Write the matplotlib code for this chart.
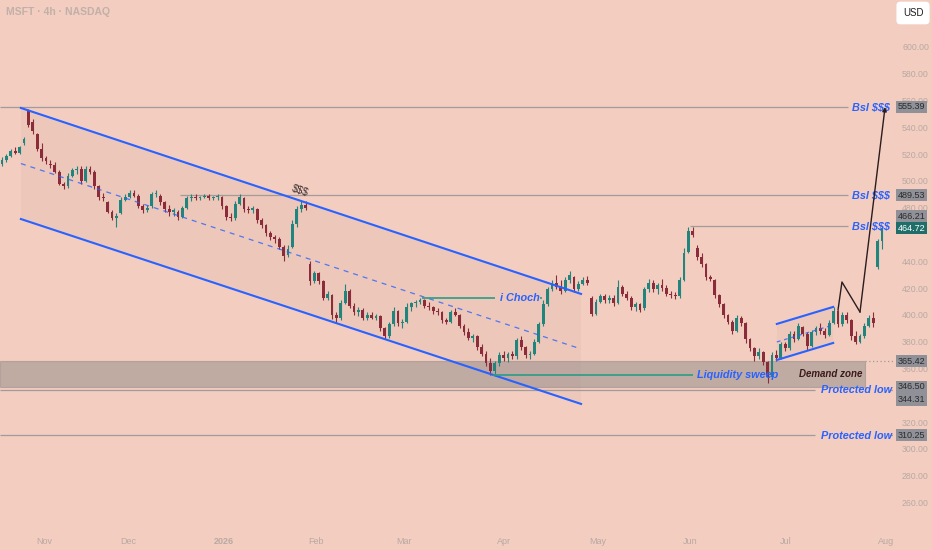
import numpy as np
import matplotlib.pyplot as plt
from matplotlib.patches import Rectangle, Polygon
from matplotlib.transforms import blended_transform_factory

plt.rcParams['font.family'] = ['Liberation Sans', 'DejaVu Sans']

# --- MSFT 4h, one slot per trading day ---
opens = [513, 516, 519, 522, 521, 528, 552, 544, 535, 524,
         517, 513, 512, 507, 498, 496, 504, 508, 509, 500,
         509, 507, 496, 488, 484, 477, 472, 476, 486, 488,
         491, 489, 481, 478, 481, 490, 489, 484, 479, 477,
         477, 473, 480, 487, 488, 487, 488, 489, 487, 488,
         488, 481, 473, 472, 483, 487, 479, 478, 479, 471,
         467, 461, 458, 457, 451, 445, 451, 468, 479, 482,
         438, 425, 431, 425, 413, 415, 400, 398, 409, 418,
         407, 402, 404, 398, 400, 398, 399, 390, 384, 393,
         403, 394, 395, 406, 409, 410, 411, 407, 406, 403,
         402, 396, 395, 402, 400, 392, 387, 383, 384, 376,
         371, 364, 358, 364, 370, 368, 371, 369, 381, 376,
         370, 371, 380, 393, 408, 419, 424, 421, 418, 426,
         428, 419, 423, 426, 413, 401, 410, 414, 411, 413,
         409, 421, 416, 413, 406, 408, 405, 419, 424, 419,
         422, 420, 416, 415, 414, 426, 447, 463, 450, 443,
         438, 428, 426, 415, 408, 400, 395, 388, 398, 394,
         382, 375, 369, 372, 365, 354, 370, 368, 378, 375,
         386, 382, 391, 386, 377, 387, 390, 388, 385, 394,
         403, 393, 400, 396, 384, 380, 384, 392, 398, 436,
         455]
highs = [518, 520, 524, 525, 526, 533, 554, 546, 536, 528,
         519, 516, 514, 508, 499, 506, 510, 511, 511, 511,
         511, 508, 497, 491, 485, 478, 476, 488, 490, 493,
         493, 490, 483, 482, 492, 493, 490, 485, 482, 480,
         478, 481, 489, 490, 490, 489, 490, 490, 489, 490,
         489, 482, 476, 485, 490, 488, 481, 481, 480, 472,
         468, 463, 460, 458, 452, 452, 471, 481, 485, 485,
         440, 433, 432, 426, 418, 416, 402, 411, 423, 419,
         409, 406, 405, 402, 402, 401, 400, 391, 395, 406,
         404, 397, 409, 410, 411, 412.7, 412, 410, 407, 405,
         403, 398, 404, 405, 401, 393, 390, 386, 385, 378,
         373, 368, 366, 372, 373, 372, 373, 383, 384, 377,
         373, 382, 395, 411, 421, 426, 430, 426, 428, 433,
         429, 425, 428, 429, 414, 412, 416, 416, 415, 415,
         426, 422, 418, 414, 410, 409, 421, 427, 426, 424,
         427, 422, 418, 417, 428, 450, 466, 466, 452, 446,
         439, 430, 427, 416, 409, 401, 396, 400, 399, 395,
         383, 376, 375, 373, 366, 372, 374, 380, 380, 388,
         388, 394, 392, 387, 389, 392, 394, 390, 396, 406,
         404, 402, 402, 397, 388, 386, 394, 400, 402, 457,
         466]
lows = [511, 514, 518, 520, 520, 527, 540, 535, 522, 515,
        513, 510, 506, 497, 494, 495, 503, 505, 498, 499,
        505, 494, 486, 485, 476, 471, 466, 475, 485, 487,
        488, 480, 476, 477, 480, 488, 482, 477, 474, 474,
        471, 472, 479, 485, 486, 486, 487, 486, 486, 486,
        479, 471, 470, 471, 482, 477, 476, 476, 469, 465,
        459, 456, 454, 449, 440, 443, 450, 466, 477, 478,
        422, 424, 423, 411, 411, 397, 394, 396, 408, 405,
        400, 399, 396, 396, 397, 396, 388, 382, 383, 392,
        392, 390, 394, 403, 406, 408, 405, 404, 401, 400,
        394, 393, 394, 399, 390, 385, 381, 380, 374, 369,
        362, 355.5, 356, 362, 366, 365, 367, 367, 374, 368,
        367, 370, 379, 392, 407, 418, 419, 416, 417, 424,
        417, 418, 422, 422, 399, 400, 409, 409, 409, 407,
        408, 414, 411, 404, 403, 402, 404, 417, 417, 416,
        418, 414, 413, 412, 413, 425, 446, 458, 441, 436,
        426, 425, 413, 406, 398, 393, 386, 387, 392, 379,
        373, 366, 367, 363, 349.5, 353, 366, 367, 373, 374,
        380, 381, 384, 374, 376, 385, 386, 383, 384, 393,
        391, 392, 394, 381, 378, 379, 383, 391, 391, 434,
        449]
closes = [516, 519, 522, 521, 525, 531, 542, 537, 524, 517,
          515, 512, 507, 498, 496, 504, 508, 509, 500, 509,
          507, 496, 488, 487, 477, 472, 474, 486, 488, 491,
          489, 481, 478, 480, 490, 491, 484, 479, 477, 478,
          473, 480, 487, 488, 487, 488, 489, 487, 488, 489,
          481, 473, 472, 483, 488, 479, 478, 480, 471, 467,
          461, 458, 457, 451, 444, 449, 468, 479, 482, 480,
          425, 431, 425, 413, 416, 400, 398, 409, 418, 407,
          402, 404, 398, 400, 398, 399, 390, 384, 393, 403,
          394, 395, 406, 409, 410, 411, 407, 406, 403, 402,
          396, 395, 402, 400, 392, 387, 383, 384, 376, 371,
          364, 358, 364, 370, 368, 371, 369, 381, 376, 370,
          371, 380, 393, 408, 419, 424, 421, 418, 426, 430,
          419, 423, 426, 424, 401, 410, 414, 411, 413, 409,
          421, 416, 413, 406, 408, 404, 419, 424, 419, 422,
          420, 416, 415, 414, 426, 446, 463, 460, 443, 438,
          428, 427, 415, 408, 400, 395, 388, 398, 394, 382,
          375, 369, 372, 365, 354, 370, 368, 378, 375, 386,
          382, 392, 386, 377, 387, 390, 388, 385, 394, 403,
          393, 400, 396, 384, 380, 384, 392, 398, 394, 455,
          464.72]

month_pos = [9.5, 28.6, 50.5, 71.4, 91.4, 114.1, 135.5, 156.4, 178.2, 200.9]
month_labels = ['Nov', 'Dec', '2026', 'Feb', 'Mar', 'Apr', 'May', 'Jun', 'Jul', 'Aug']
price_ticks = list(range(260, 601, 20))
hidden_ticks = [340, 460]   # covered by the price labels

bsl_levels = [555.39, 489.53, 466.21]
protected_lows = [344.31, 310.25]
demand_zone = (346.50, 365.42)
last_price = 464.72

# channel ends (upper, middle, lower) at start / end bar
channel_start = [554.5, 513.0, 471.6]
channel_end = [415.7, 374.6, 333.6]
# July rising channel
flag_start = [393.3, 366.4]
flag_end = [406.0, 379.1]
# projection path
path_bars = [190.0, 190.9, 195.0, 200.7]
path_prices = [403.7, 424.6, 402.2, 555.2]
choch_level = 412.7
sweep_level = 355.5

BG = '#f2cdc0'
UP = '#21857d'
DOWN = '#8a2c3a'
BLUE = '#2962ff'
TEAL = '#2a9d85'
GRAY_LINE = '#a39b99'
TICK = '#b9a9a2'

fig = plt.figure(figsize=(9.32, 5.5), dpi=100, facecolor=BG)
ax = fig.add_axes([0, 20 / 550, 893 / 932, 530 / 550], facecolor=BG)
ax.set_xlim(-0.45, 202.5)
ax.set_ylim(239.5, 635.07)
for s in ax.spines.values():
    s.set_visible(False)

# descending channel
c0, c1 = 4.3, 131.6
ax.add_patch(Polygon([(c0, channel_start[0]), (c1, channel_end[0]),
                      (c1, channel_end[2]), (c0, channel_start[2])],
                     closed=True, fc='#a07060', alpha=0.06, ec='none', zorder=1))
ax.plot([c0, c1], [channel_start[0], channel_end[0]], color=BLUE, lw=1.5, zorder=5)
ax.plot([c0, c1], [channel_start[2], channel_end[2]], color=BLUE, lw=1.5, zorder=5)
ax.plot([c0, c1], [channel_start[1], channel_end[1]], color=BLUE, lw=0.9,
        dashes=(4, 4), alpha=0.8, zorder=5)

# demand zone
ax.add_patch(Rectangle((-0.45, demand_zone[0]), 196.55, demand_zone[1] - demand_zone[0],
                       fc='#8a8684', alpha=0.48, ec='#8f8580', lw=0.8, zorder=1))
ax.text(188.4, 356, 'Demand zone', fontsize=7, fontweight='bold', style='italic',
        color='#3a1a1c', ha='center', va='center', zorder=6)
ax.hlines(demand_zone[1], 196.1, 202.5, colors=GRAY_LINE, lw=0.9, linestyles=(0, (1, 2)), zorder=2)

# horizontal levels
for lev, x0 in zip(bsl_levels, [-0.45, 40.5, 156.4]):
    ax.hlines(lev, x0, 192.3, colors=GRAY_LINE, lw=0.9, zorder=2)
    ax.text(193.2, lev, 'Bsl $$$', fontsize=7.8, fontweight='bold', style='italic',
            color=BLUE, ha='left', va='center', zorder=6)
for lev in protected_lows:
    ax.hlines(lev, -0.45, 184.8, colors=GRAY_LINE, lw=0.9, zorder=2)
    ax.hlines(lev, 201.6, 202.5, colors=GRAY_LINE, lw=0.9, zorder=2)
    ax.text(186.1, lev - 0.5, 'Protected low', fontsize=7.8, fontweight='bold', style='italic',
            color=BLUE, ha='left', va='center', zorder=6)

ax.text(67.7, 493, '$$$', fontsize=7.5, color='#3e3030', rotation=-18,
        ha='center', va='center', zorder=6)

# choch / sweep marks
ax.hlines(choch_level, 95.5, 112.0, colors=TEAL, lw=1.2, zorder=5)
ax.hlines(choch_level, 122.3, 122.7, colors=TEAL, lw=1.2, zorder=5)
ax.text(113.2, choch_level, 'i Choch', fontsize=7.8, fontweight='bold', style='italic',
        color=BLUE, ha='left', va='center', zorder=6)
ax.hlines(sweep_level, 111.6, 157.0, colors=TEAL, lw=1.2, zorder=5)
ax.text(158.0, sweep_level, 'Liquidity sweep', fontsize=7.8, fontweight='bold', style='italic',
        color=BLUE, ha='left', va='center', zorder=6)

# July flag
f0, f1 = 176.1, 188.9
ax.add_patch(Polygon([(f0, flag_start[0]), (f1, flag_end[0]), (f1, flag_end[1]), (f0, flag_start[1])],
                     closed=True, fc='#a07060', alpha=0.06, ec='none', zorder=1))
ax.plot([f0, f1], [flag_start[0], flag_end[0]], color=BLUE, lw=1.5, zorder=5)
ax.plot([f0, f1], [flag_start[1], flag_end[1]], color=BLUE, lw=1.5, zorder=5)
ax.plot([f0, f1], [(flag_start[0] + flag_start[1]) / 2, (flag_end[0] + flag_end[1]) / 2],
        color=BLUE, lw=0.9, dashes=(3, 3), alpha=0.8, zorder=5)

# candles
x = np.arange(len(closes))
o = np.array(opens, float)
c = np.array(closes, float)
h = np.array(highs, float)
l = np.array(lows, float)
col = np.where(c >= o, UP, DOWN)
ax.vlines(x, l, h, colors=col, lw=0.8, zorder=3)
ax.bar(x, np.maximum(np.abs(c - o), 0.6), bottom=np.minimum(o, c), width=0.62,
       color=col, lw=0, zorder=4)

# projection path
ax.plot(path_bars[:-1], path_prices[:-1], color='#2b1d1d', lw=1, zorder=7)
ax.annotate('', xy=(path_bars[-1], path_prices[-1]), xytext=(path_bars[-2], path_prices[-2]),
            arrowprops=dict(arrowstyle='-|>', color='#2b1d1d', lw=1, mutation_scale=6,
                            shrinkA=0, shrinkB=0), zorder=7)

# axes
ax.set_xticks(month_pos, month_labels)
ax.tick_params(axis='x', length=0, pad=5, labelsize=6.5, labelcolor=TICK)
ax.get_xticklabels()[2].set_fontweight('bold')
ax.yaxis.tick_right()
ax.set_yticks(price_ticks, ['' if v in hidden_ticks else f'{v:.2f}' for v in price_ticks])
ax.tick_params(axis='y', length=0, pad=6.5, labelsize=6.3, labelcolor=TICK)

# price scale labels
tr = blended_transform_factory(fig.transFigure, ax.transData)
scale_labels = [(555.39, 0), (489.53, 0), (466.21, 10), (365.42, 0), (346.50, 0),
                (344.31, -10), (310.25, 0)]
for val, shift in scale_labels:
    ax.annotate(f'{val:.2f}', xy=(898 / 932, val), xycoords=tr, xytext=(0, shift),
                textcoords='offset pixels', ha='left', va='center', fontsize=6.5,
                color='#2b2b2b', annotation_clip=False, zorder=10,
                bbox=dict(boxstyle='square,pad=0.18', fc='#8f9098', ec='none'))
ax.annotate(f'{last_price:.2f}', xy=(898 / 932, last_price), xycoords=tr,
            ha='left', va='center', fontsize=6.5, color='white', annotation_clip=False,
            zorder=11, bbox=dict(boxstyle='square,pad=0.18', fc='#1f6e69', ec='none'))

fig.text(6 / 932, 1 - 12 / 550, 'MSFT · 4h · NASDAQ', fontsize=7.5, fontweight='bold',
         color='#c2b0a8', va='center', ha='left')
fig.text(913 / 932, 1 - 13 / 550, 'USD', fontsize=7, color='#1e1e1e', ha='center', va='center',
         bbox=dict(boxstyle='round,pad=0.65,rounding_size=0.4', fc='white', ec='none'))

fig.savefig('out.png', dpi=100, facecolor=BG)
